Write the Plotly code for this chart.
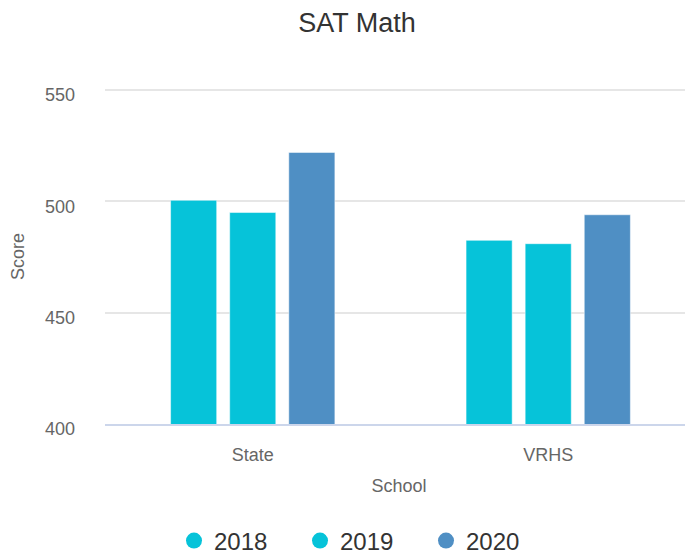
import plotly.graph_objects as go

schools = ["State", "VRHS"]
years = ["2018", "2019", "2020"]
scores_2018 = [500.5, 482.5]
scores_2019 = [495, 481]
scores_2020 = [522, 494]
series = [scores_2018, scores_2019, scores_2020]
colors = ["#06C3D9", "#06C3D9", "#4F8FC4"]
yticks = [400, 450, 500, 550]

# page body adds an 8px margin; figure is sized to fill the rest of the window
W, H = 685, 546

fig = go.Figure()
for name, vals, c in zip(years, series, colors):
    fig.add_trace(go.Bar(
        x=schools, y=vals, name=name, legendgroup=name, showlegend=False,
        marker=dict(color=c, line=dict(color="white", width=0.5)),
    ))
for name, c in zip(years, colors):
    fig.add_trace(go.Scatter(
        x=[None], y=[None], mode="markers", name=name, legendgroup=name,
        marker=dict(color=c, size=20, symbol="circle"),
    ))

fig.update_layout(
    width=W, height=H,
    margin=dict(l=97, r=0, t=81, b=130),
    paper_bgcolor="white", plot_bgcolor="white",
    font=dict(family="Liberation Sans, Arial, sans-serif", color="#666666"),
    title=dict(text="SAT Math", x=349 / W, xanchor="center",
               y=1 - 15 / H, yanchor="middle",
               font=dict(size=27, color="#333333")),
    barmode="group", bargap=0.4, bargroupgap=0.22,
    legend=dict(orientation="h", xref="container", yref="container",
                x=355 / W, xanchor="center", y=1 - 533 / H, yanchor="middle",
                font=dict(size=24, color="#333333"),
                entrywidth=81, itemwidth=30),
    showlegend=True,
)
fig.update_xaxes(
    range=[-0.5, 1.49], showgrid=False, zeroline=False,
    showline=True, linecolor="#ccd6eb", linewidth=1.5,
    tickfont=dict(size=18, color="#666666"), ticklabelstandoff=14,
    title=dict(text="School", font=dict(size=18, color="#666666"), standoff=15),
)
fig.update_yaxes(
    range=[400, 550.5], tickvals=yticks, showgrid=True, gridcolor="#e6e6e6",
    gridwidth=1.5, zeroline=False, showline=False,
    tickfont=dict(size=18, color="#666666"), ticklabelstandoff=29,
    ticklabelshift=5,
    title=dict(text="Score", font=dict(size=18, color="#666666"), standoff=20),
)

fig.write_html("out.html")
